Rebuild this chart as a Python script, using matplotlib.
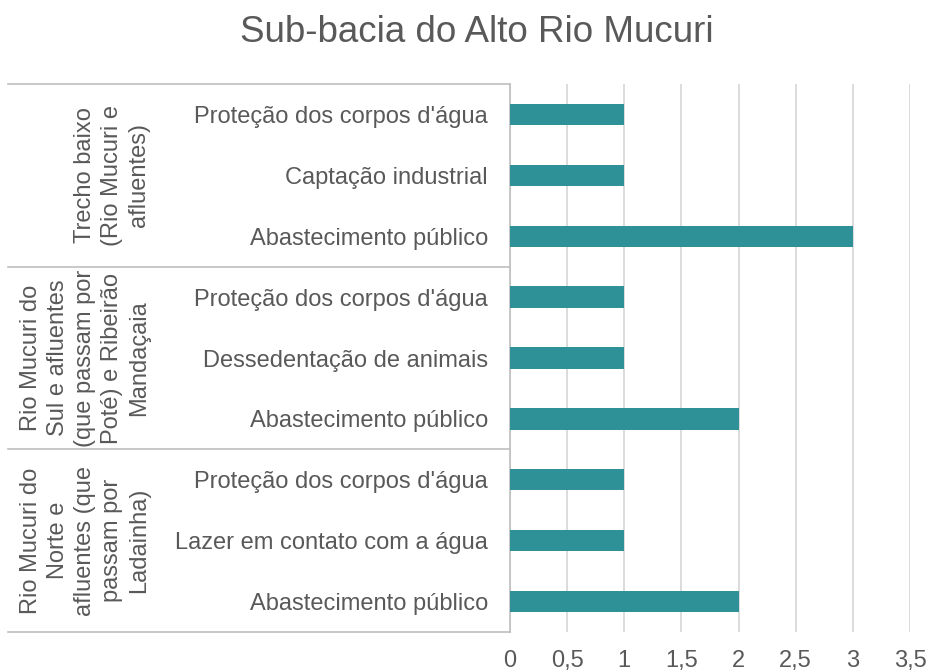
import matplotlib
matplotlib.use("Agg")
import matplotlib.pyplot as plt
from matplotlib.transforms import blended_transform_factory

plt.rcParams['font.family'] = ['Liberation Sans', 'DejaVu Sans']

# bottom to top, as Excel lists them
categories = [
    "Abastecimento público", "Lazer em contato com a água", "Proteção dos corpos d'água",
    "Abastecimento público", "Dessedentação de animais", "Proteção dos corpos d'água",
    "Abastecimento público", "Captação industrial", "Proteção dos corpos d'água",
]
values = [2, 1, 1, 2, 1, 1, 3, 1, 1]
groups = [
    "Rio Mucuri do\nNorte e\nafluentes (que\npassam por\nLadainha)",
    "Rio Mucuri do\nSul e afluentes\n(que passam por\nPoté) e Ribeirão\nMandaçaia",
    "Trecho baixo\n(Rio Mucuri e\nafluentes)",
]
group_size = 3
xticks = [0, 0.5, 1, 1.5, 2, 2.5, 3, 3.5]
xtick_labels = ["0", "0,5", "1", "1,5", "2", "2,5", "3", "3,5"]

text_color = "#595959"
bar_color = "#2F9198"
grid_color = "#D9D9D9"
line_color = "#BFBFBF"
fs = 17

W, H = 928, 671
fig = plt.figure(figsize=(W / 100, H / 100), dpi=100)
ax = fig.add_axes([510 / W, 1 - 632 / H, 400 / W, 548 / H])

ypos = list(range(len(categories)))
ax.barh(ypos, values, height=0.35, color=bar_color, zorder=3)

ax.set_xlim(0, 3.5)
ax.set_ylim(-0.5, len(categories) - 0.5)
ax.set_xticks(xticks)
ax.set_xticklabels(xtick_labels)
ax.set_yticks(ypos)
ax.set_yticklabels(categories)
ax.tick_params(axis='x', length=0, pad=13, labelsize=fs, labelcolor=text_color)
ax.tick_params(axis='y', length=0, pad=16, labelsize=fs, labelcolor=text_color)
ax.xaxis.grid(True, color=grid_color, linewidth=1.3, zorder=0)

for side in ["top", "right", "bottom"]:
    ax.spines[side].set_visible(False)
ax.spines["left"].set_color(line_color)
ax.spines["left"].set_linewidth(1.2)

# group separators and labels
trans = blended_transform_factory(fig.transFigure, ax.transData)
for k in range(len(groups) + 1):
    y = k * group_size - 0.5
    ax.plot([8 / W, 510 / W], [y, y], transform=trans, color=line_color,
            linewidth=1.2, clip_on=False)
for k, g in enumerate(groups):
    yc = k * group_size + (group_size - 1) / 2
    ax.text(150 / W, yc, g, transform=trans, rotation=90, ha='right', va='center',
            multialignment='center', fontsize=fs, color=text_color, linespacing=1.3)

fig.text(477 / W, 1 - 32 / H, "Sub-bacia do Alto Rio Mucuri", ha='center', va='center',
         fontsize=26.5, color=text_color)

fig.savefig("out.png", dpi=100)
